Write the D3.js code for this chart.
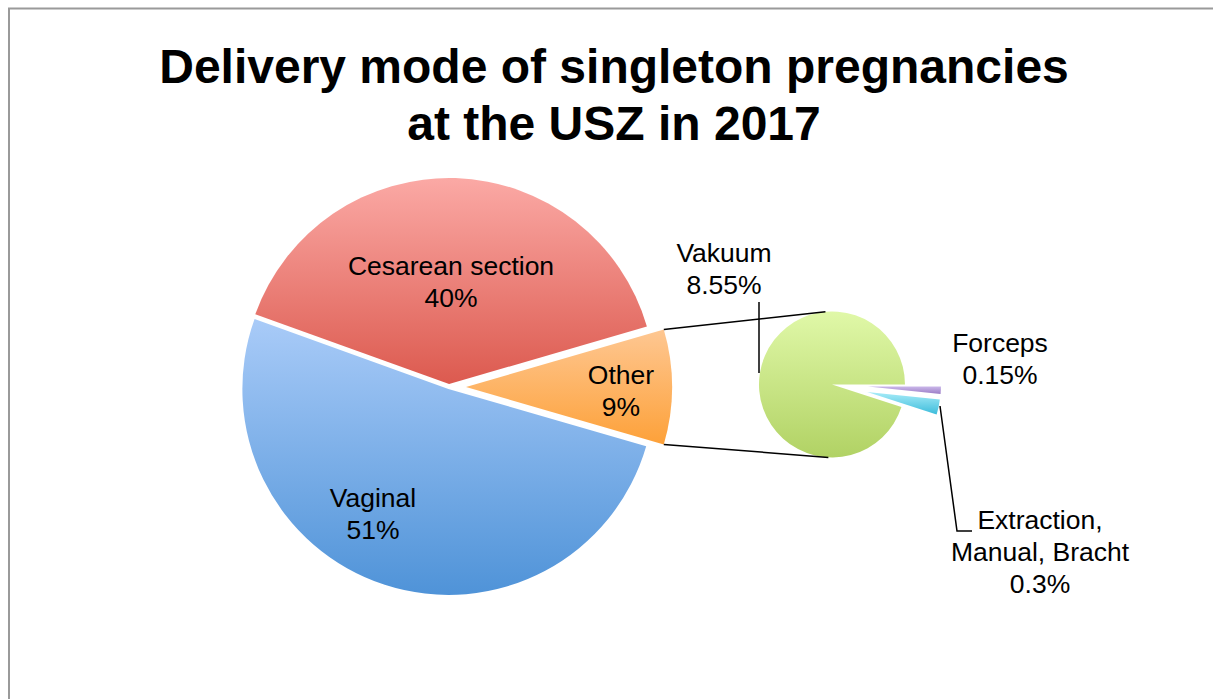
<!DOCTYPE html>
<html>
<head>
<script src="https://d3js.org/d3.v7.min.js"></script>
<style>
  body { margin: 0; background: #fff; }
  text { font-family: "Liberation Sans", Arial, sans-serif; fill: #000; }
</style>
</head>
<body>
<script>
    // data
    var mainCats = ["Other", "Vaginal", "Cesarean section"];
    var mainVals = [9, 51, 40];
    var subCats = ["Forceps", "Extraction, Manual, Bracht", "Vakuum"];
    var subVals = [0.15, 0.3, 8.55];
    var titleLines = ["Delivery mode of singleton pregnancies", "at the USZ in 2017"];

    var W = 1213, H = 699;
    var svg = d3.select("body").append("svg")
        .attr("width", W)
        .attr("height", H);

    // frame
    svg.append("path")
        .attr("d", "M9,699 L9,8.5 L1213,8.5")
        .style("fill", "none")
        .style("stroke", "#9a9a9a")
        .style("stroke-width", 2);

    // gradients (top colour, bottom colour)
    var grads = {
        "Other": ["#fec792", "#fda139"],
        "Vaginal": ["#a9cbf8", "#4f93d8"],
        "Cesarean section": ["#fba9a5", "#dc5a4f"],
        "Vakuum": ["#e0f8a8", "#b1d264"],
        "Forceps": ["#cbb8ea", "#9a7cc6"],
        "Extraction, Manual, Bracht": ["#a8ecf8", "#3cbcdb"]
    };
    var defs = svg.append("defs");
    Object.keys(grads).forEach(function(k, i) {
        var g = defs.append("linearGradient")
            .attr("id", "g" + i)
            .attr("x1", 0).attr("y1", 0).attr("x2", 0).attr("y2", 1);
        g.append("stop").attr("offset", "0%").attr("stop-color", grads[k][0]);
        g.append("stop").attr("offset", "100%").attr("stop-color", grads[k][1]);
        grads[k].id = "url(#g" + i + ")";
    });

    // main pie
    var cx = 449, cy = 387, R = 206;
    var explode = {"Other": 17, "Vaginal": 2, "Cesarean section": 3};
    var otherSpan = mainVals[0] / d3.sum(mainVals) * Math.PI * 2;
    var mainPie = d3.pie().sort(null)
        .startAngle(Math.PI / 2 - otherSpan / 2)
        .endAngle(Math.PI / 2 - otherSpan / 2 + Math.PI * 2);
    var mainArcs = mainPie(mainVals);
    mainArcs.forEach(function(d, i) {
        d.name = mainCats[i];
        var mid = (d.startAngle + d.endAngle) / 2;
        d.ox = Math.sin(mid) * explode[d.name];
        d.oy = -Math.cos(mid) * explode[d.name];
    });
    var arc = d3.arc().innerRadius(0).outerRadius(R);

    var mainG = svg.append("g").attr("transform", "translate(" + cx + "," + cy + ")");
    mainG.selectAll("path")
        .data(mainArcs)
        .enter()
        .append("path")
        .attr("transform", function(d) { return "translate(" + d.ox + "," + d.oy + ")"; })
        .attr("d", arc)
        .style("fill", function(d) { return grads[d.name].id; });

    // secondary pie
    var cx2 = 832, cy2 = 384.5, r2 = 73;
    var subExplode = {"Forceps": 36, "Extraction, Manual, Bracht": 36, "Vakuum": 0};
    var subPie = d3.pie().sort(null)
        .startAngle(Math.PI / 2)
        .endAngle(Math.PI / 2 + Math.PI * 2);
    var subArcs = subPie(subVals);
    subArcs.forEach(function(d, i) {
        d.name = subCats[i];
        var mid = (d.startAngle + d.endAngle) / 2;
        d.ox = Math.sin(mid) * subExplode[d.name];
        d.oy = -Math.cos(mid) * subExplode[d.name];
    });
    var arc2 = d3.arc().innerRadius(0).outerRadius(r2);
    var subG = svg.append("g").attr("transform", "translate(" + cx2 + "," + cy2 + ")");
    subG.selectAll("path")
        .data(subArcs)
        .enter()
        .append("path")
        .attr("transform", function(d) { return "translate(" + d.ox + "," + d.oy + ")"; })
        .attr("d", arc2)
        .style("fill", function(d) { return grads[d.name].id; });

    // connector lines from the Other slice to the small pie
    var oth = mainArcs[0];
    function pt(a, r, ox, oy, x0, y0) {
        return [x0 + ox + Math.sin(a) * r, y0 + oy - Math.cos(a) * r];
    }
    var c1 = pt(oth.startAngle, R, oth.ox, oth.oy, cx, cy);
    var c2 = pt(oth.endAngle, R, oth.ox, oth.oy, cx, cy);
    var s1 = pt(-0.09, r2, 0, 0, cx2, cy2);
    var s2 = pt(Math.PI + 0.05, r2, 0, 0, cx2, cy2);
    svg.append("path")
        .attr("d", d3.line()([c1, s1]))
        .style("stroke", "#000").style("stroke-width", 1.5).style("fill", "none");
    svg.append("path")
        .attr("d", d3.line()([c2, s2]))
        .style("stroke", "#000").style("stroke-width", 1.5).style("fill", "none");

    // leader lines
    svg.append("path")
        .attr("d", d3.line()([[759, 302], [759, 373]]))
        .style("stroke", "#000").style("stroke-width", 1.5).style("fill", "none");
    svg.append("path")
        .attr("d", d3.line()([[940, 406], [957, 531], [972, 531]]))
        .style("stroke", "#000").style("stroke-width", 1.5).style("fill", "none");

    // title
    svg.selectAll("text.title")
        .data(titleLines)
        .enter()
        .append("text")
        .attr("class", "title")
        .attr("x", 614)
        .attr("y", function(d, i) { return 83 + i * 57; })
        .attr("text-anchor", "middle")
        .style("font-size", "48px")
        .style("font-weight", "bold")
        .text(function(d) { return d; });

    // labels: [lines, x, first baseline]
    var fmt = function(v) { return v + "%"; };
    var labels = [
        [[mainCats[2], fmt(mainVals[2])], 451, 275],
        [[mainCats[0], fmt(mainVals[0])], 621, 384],
        [[mainCats[1], fmt(mainVals[1])], 373, 507],
        [[subCats[2], fmt(subVals[2])], 724, 262],
        [[subCats[0], fmt(subVals[0])], 1000, 352],
        [["Extraction,", "Manual, Bracht", fmt(subVals[1])], 1040, 529]
    ];
    labels.forEach(function(l) {
        svg.append("text")
            .attr("x", l[1])
            .attr("y", l[2])
            .attr("text-anchor", "middle")
            .style("font-size", "26.5px")
            .selectAll("tspan")
            .data(l[0])
            .enter()
            .append("tspan")
            .attr("x", l[1])
            .attr("dy", function(d, i) { return i === 0 ? 0 : 32; })
            .text(function(d) { return d; });
    });
</script>
</body>
</html>
